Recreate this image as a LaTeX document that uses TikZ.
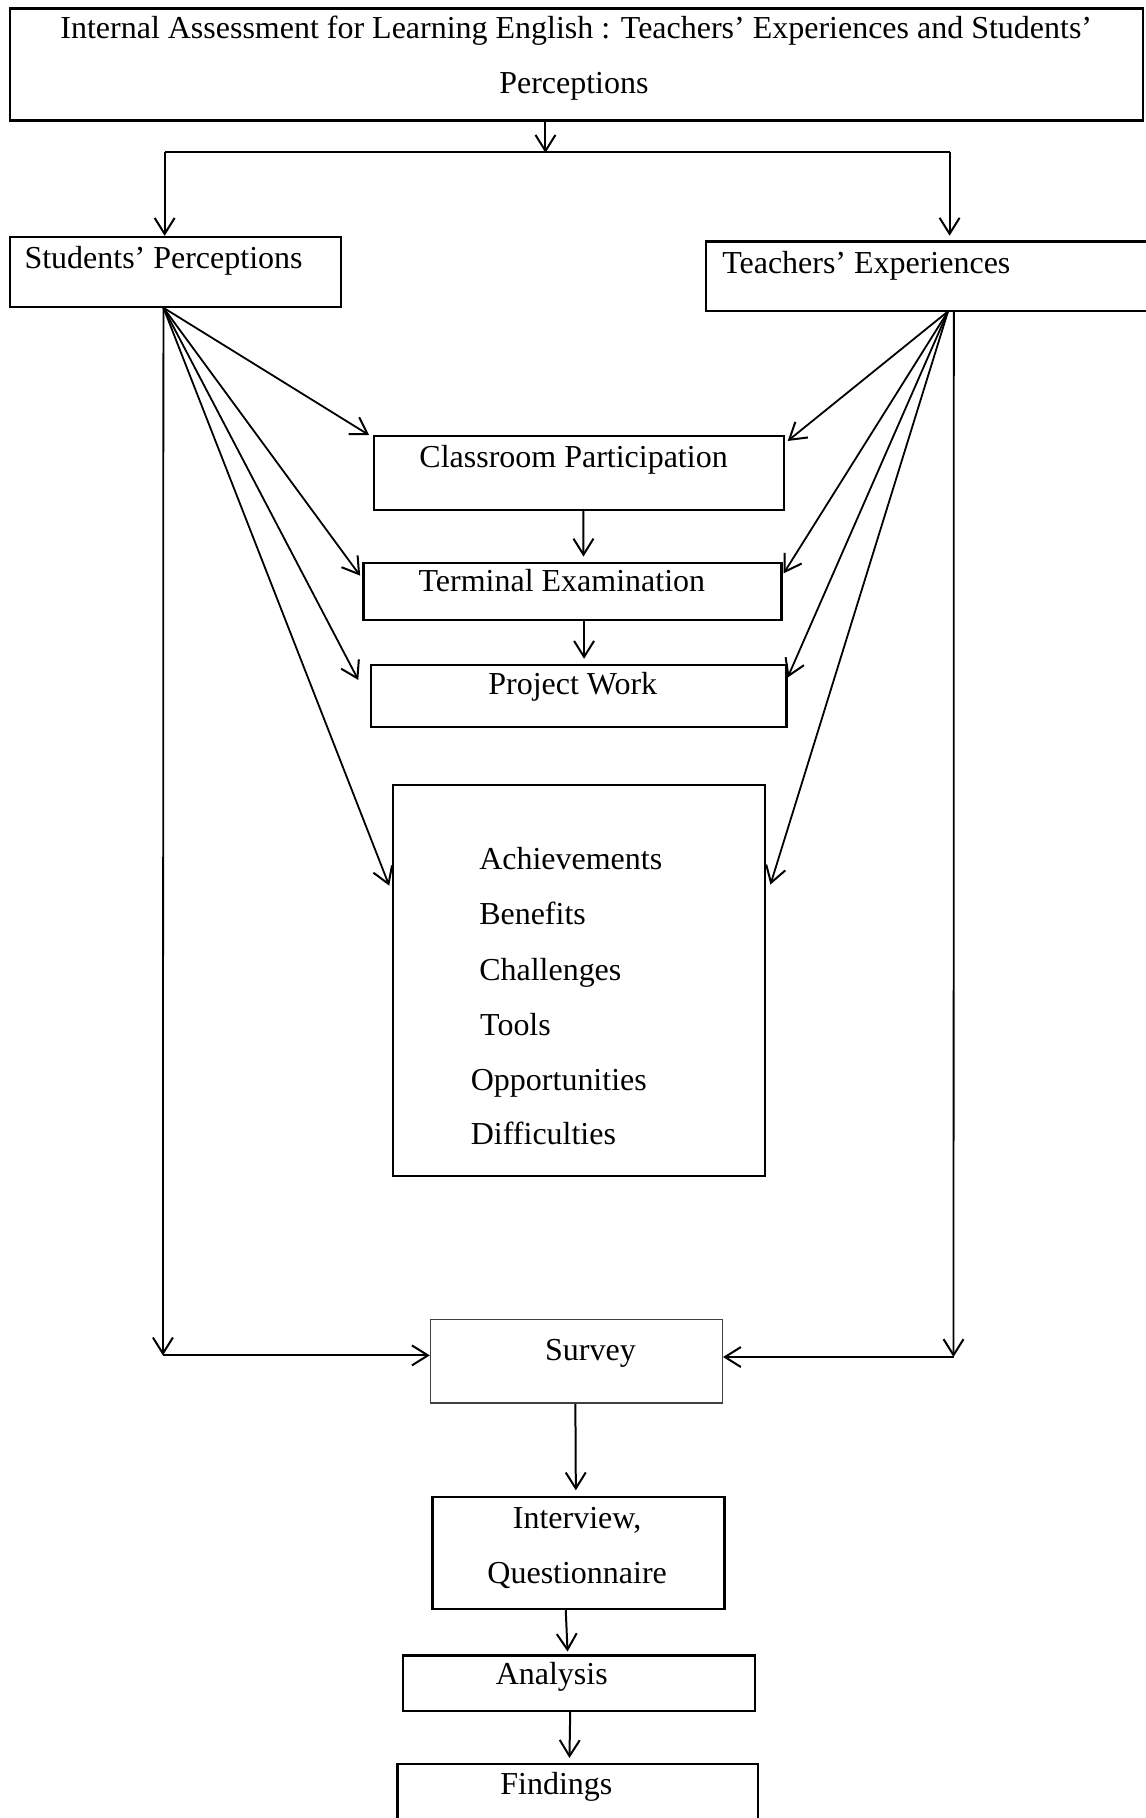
\documentclass[tikz,border=0pt]{standalone}
\usepackage{fontspec}
\setmainfont{Liberation Serif}
\usetikzlibrary{arrows.meta,calc}
\begin{document}
\begin{tikzpicture}[x=0.58pt,y=-0.58pt,
  box/.style={draw,line width=1.1pt,inner sep=0pt,anchor=north west},
  nobox/.style={inner sep=0pt,anchor=north west},
  lbl/.style={inner sep=0pt,yshift=-2.9pt,font=\fontsize{16}{19}\selectfont,text height=0.68em,text depth=0.2em},
  arr/.style={line width=1pt,-{Straight Barb[length=8pt,width=10pt,line width=1pt]}},
  fan/.style={line width=0.9pt,-{Straight Barb[length=8pt,width=10pt,line width=1pt]}},
  ln/.style={line width=1pt},
  side/.style={line width=1.1pt}]
\useasboundingbox (0,0) rectangle (988,1568);
\newcommand\mkbox[6][box]{\node[#1,minimum width={(#5-#3)*0.58pt},minimum height={(#6-#4)*0.58pt}] (#2) at (#3,#4) {};}
% boxes
\mkbox{title}{7.6}{6.3}{985}{102.9}
\mkbox{sp}{7.6}{203.4}{293}{263.5}
\mkbox[nobox]{tx}{608.7}{208.3}{988}{267.8}
\draw[side] (tx.north east) -- (tx.north west) -- (tx.south west) -- (tx.south east);
\mkbox{cp}{321.4}{375.3}{675.5}{438.8}
\mkbox{te}{312.6}{484.5}{673}{533.6}
\mkbox{pw}{319}{572.4}{677.4}{626.4}
\mkbox{bb}{337.7}{675.9}{658.6}{1013}
\mkbox[box,line width=0.7pt,draw=black!75]{sv}{370.7}{1137.5}{622.4}{1209.5}
\mkbox{iq}{372}{1290.4}{624}{1386.9}
\mkbox{an}{346.3}{1426.8}{650}{1474.7}
\mkbox[nobox]{fi}{342.8}{1521.5}{653.2}{1568}
\draw[side] (fi.south west) -- (fi.north west) -- (fi.north east) -- (fi.south east);
% texts
\node[lbl] (t1) at (497,24.4) {Internal Assessment for Learning English : Teachers’ Experiences and Students’};
\node[lbl] (t2) at (495,71.8) {Perceptions};
\node[lbl,anchor=west] (spt) at (20.8,222.6) {Students’ Perceptions};
\node[lbl,anchor=west] (txt) at (622.6,227) {Teachers’ Experiences};
\node[lbl] (cpt) at (494.7,393.7) {Classroom Participation};
\node[lbl] (tet) at (484.6,501.4) {Terminal Examination};
\node[lbl] (pwt) at (494,589.6) {Project Work};
\node[lbl,anchor=west] (l1) at (413,740.8) {Achievements};
\node[lbl,anchor=west] (l2) at (413,788) {Benefits};
\node[lbl,anchor=west] (l3) at (413,836.2) {Challenges};
\node[lbl,anchor=west] (l4) at (413.8,883.6) {Tools};
\node[lbl,anchor=west] (l5) at (405.8,931) {Opportunities};
\node[lbl,anchor=west] (l6) at (405.8,977.6) {Difficulties};
\node[lbl] (svt) at (509.3,1164) {Survey};
\node[lbl] (iq1) at (497.8,1309) {Interview,};
\node[lbl] (iq2) at (497.8,1356.4) {Questionnaire};
\node[lbl] (ant) at (475.9,1443.6) {Analysis};
\node[lbl] (fit) at (479.9,1538.4) {Findings};
% top split
\coordinate (jl) at (142,131);
\coordinate (jr) at (819,131);
\coordinate (jm) at ($(title.south)+(-26.8,27)$);
\draw[arr] ($(title.south)+(-26.8,0)$) -- (jm);
\draw[ln] (jl) -- (jr);
\draw[arr] (jl) -- (jl |- sp.north);
\draw[arr] (jr) -- ($(jr |- tx.north)+(0,-5)$);
% fan origins
\coordinate (s0) at ($(sp.south)+(-10.3,0)$);
\coordinate (t0) at ($(tx.south)+(19,0)$);
\coordinate (t1v) at ($(tx.south)+(24,0)$);
\coordinate (sb) at (140.5,1169);
\coordinate (tb) at (822.4,1170.4);
% student fan
\draw[fan] (s0) -- ($(cp.north west)+(-3,0)$);
\draw[fan] (s0) -- ($(te.north west)+(-2,12)$);
\draw[fan] (s0) -- ($(pw.north west)+(-10,14)$);
\draw[fan] (s0) -- ($(bb.north west)+(-2,88)$);
% teacher fan
\draw[fan] (t0) -- ($(cp.north east)+(2,5)$);
\draw[fan] (t0) -- ($(te.north east)+(1,10)$);
\draw[fan] (t0) -- ($(pw.north east)+(0,12)$);
\draw[fan] (t0) -- ($(bb.north east)+(4,87)$);
% long verticals to survey
\draw[fan] (s0) -- (sb);
\draw[arr] (sb) -- (sb -| sv.west);
\draw[fan] (t1v) -- (tb);
\draw[arr] (tb) -- (tb -| sv.east);
% central chain
\draw[arr] ($(cp.south)+(3.8,0)$) -- ($(te.north)+(9.5,-4.5)$);
\draw[arr] ($(te.south)+(10,0)$) -- ($(pw.north)+(4.6,-4.2)$);
\draw[arr] ($(sv.south)+(-0.9,0)$) -- ($(iq.north)+(-2.3,-5)$);
\draw[arr] ($(iq.south)+(-11,0)$) -- ($(an.north)+(-9.6,-2.4)$);
\draw[arr] ($(an.south)+(-7.3,0)$) -- ($(fi.north)+(-7.2,-5.3)$);
\end{tikzpicture}
\end{document}
